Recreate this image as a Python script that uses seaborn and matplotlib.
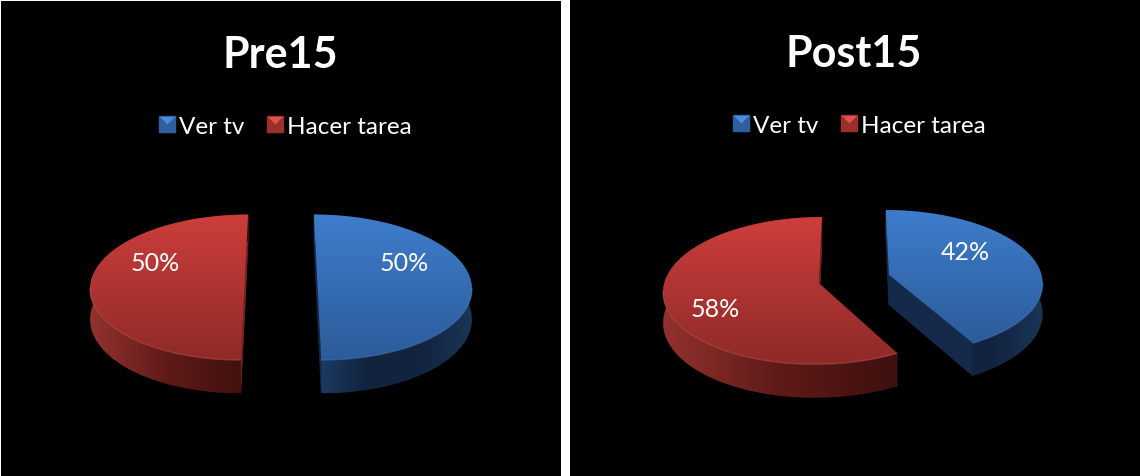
import numpy as np
import matplotlib
matplotlib.use('Agg')
import matplotlib.pyplot as plt
import seaborn as sns
from matplotlib.lines import Line2D
from matplotlib.patches import PathPatch, Polygon
from matplotlib.path import Path
from matplotlib.legend_handler import HandlerTuple

# --- data
categories = ['Ver tv', 'Hacer tarea']
pre_values = [50, 50]
post_values = [42, 58]
titles = ['Pre15', 'Post15']

# --- colours
top_ramps = [['#3E7DCC', '#2C5B9A'], ['#CD3E3B', '#8E2A28']]
side_ramps = [['#1C3E69', '#12233F', '#12233F', '#1A3556'],
              ['#93322E', '#5E1A18', '#3E100E']]
cut_cols = ['#15294A', '#7A2422']
rim_cols = ['#4E86C8', '#D65A52']
leg_dark = ['#2F5F9E', '#9A2F2C']
leg_light = ['#4A8BDA', '#E0504C']

sns.set_theme(style='dark', rc={'axes.edgecolor': 'black', 'figure.facecolor': 'white'})
plt.rcParams['font.family'] = ['Lato', 'DejaVu Sans']

# pie geometry, in pixels
A, B, K = 153.5, 72, 0.1     # semi axes, perspective
DEPTH = 30
EXPLODE = 0.236


def project(X, Y, cx, cy, depth=0):
    s = 1 / (1 + K * Y)
    return cx + A * X * s, cy - B * Y * s + depth * s


def fill_gradient(ax, verts, ramp, vertical, zorder):
    verts = np.array(verts)
    x0, y0 = verts.min(axis=0)
    x1, y1 = verts.max(axis=0)
    cmap = sns.blend_palette(ramp, 64, as_cmap=True)
    grad = np.linspace(0, 1, 256)
    grad = grad[:, None] if vertical else grad[None, :]
    im = ax.imshow(grad, cmap=cmap, extent=(x0, x1, y1, y0), aspect='auto',
                   interpolation='bilinear', zorder=zorder)
    patch = PathPatch(Path(np.vstack([verts, verts[0]]), closed=True),
                      transform=ax.transData, fc='none', ec='none')
    ax.add_patch(patch)
    im.set_clip_path(patch)


def draw_slice(ax, start, end, idx, cx, cy):
    mid = np.radians((start + end) / 2)
    ox, oy = EXPLODE * np.sin(mid), EXPLODE * np.cos(mid)
    th = np.radians(np.linspace(start, end, 160))
    X, Y = np.sin(th) + ox, np.cos(th) + oy
    tx, ty = project(X, Y, cx, cy)
    bx, by = project(X, Y, cx, cy, DEPTH)
    ax0, ay0 = project(ox, oy, cx, cy)
    ax1, ay1 = project(ox, oy, cx, cy, DEPTH)

    # cut faces
    for j in (0, -1):
        ax.add_patch(Polygon([(ax0, ay0), (tx[j], ty[j]), (bx[j], by[j]), (ax1, ay1)],
                             fc=cut_cols[idx], ec=cut_cols[idx], lw=0.5, zorder=2))
    # outer wall
    wall = list(zip(tx, ty)) + list(zip(bx[::-1], by[::-1]))
    fill_gradient(ax, wall, side_ramps[idx], False, 3)
    # top face
    top = [(ax0, ay0)] + list(zip(tx, ty))
    fill_gradient(ax, top, top_ramps[idx], True, 4)
    # soft light rim along the front edge
    front = np.cos(th) < -0.1
    ax.plot(tx[front], ty[front], color=rim_cols[idx], lw=1.0, alpha=0.45,
            zorder=5, solid_capstyle='butt')


def draw_panel(ax, values, title, cx, cy, label_xy, title_xy, legend_xy):
    ax.set_facecolor('black')
    angles = np.concatenate([[0], np.cumsum(values) / np.sum(values) * 360])
    for i in range(len(values)):
        draw_slice(ax, angles[i], angles[i + 1], i, cx, cy)
        ax.text(*label_xy[i], f'{values[i]}%', color='white', fontsize=18,
                ha='center', va='center', zorder=6)
    ax.text(*title_xy, title, color='white', fontsize=31, fontweight='bold',
            ha='center', va='center')
    tri = [(-1, 1), (1, 1), (0, 0), (-1, 1)]
    handles = []
    for i in range(len(categories)):
        base = Line2D([], [], ls='', marker='s', ms=11, mfc=leg_dark[i], mec=leg_dark[i])
        over = Line2D([], [], ls='', marker=tri, ms=11, mfc=leg_light[i], mec='none')
        handles.append((base, over))
    ax.legend(handles, categories, loc='center', bbox_to_anchor=legend_xy,
              bbox_transform=ax.transData, ncol=2, frameon=False, fontsize=17.5,
              labelcolor='white', handletextpad=-0.17, columnspacing=0.63,
              handlelength=1.3, handler_map={tuple: HandlerTuple(ndivide=1, pad=0)})


fig = plt.figure(figsize=(11.4, 4.77), dpi=100)
W, H = 1140, 477

boxes = [(1, 561, 2, 477), (570, 1140, 1, 477)]
ax_list = []
for x0, x1, y0, y1 in boxes:
    ax = fig.add_axes([x0 / W, 1 - y1 / H, (x1 - x0) / W, (y1 - y0) / H])
    ax_list.append(ax)

draw_panel(ax_list[0], pre_values, titles[0], 281, 281,
           [(404, 264), (155, 264)], (280, 55), (281.5, 127))
draw_panel(ax_list[1], post_values, titles[1], 854, 280,
           [(965, 252), (715, 310)], (854, 54), (855.5, 126))

for ax, (x0, x1, y0, y1) in zip(ax_list, boxes):
    ax.set_xlim(x0, x1)
    ax.set_ylim(y1, y0)
    ax.set_xticks([])
    ax.set_yticks([])
    ax.grid(False)
    for sp in ax.spines.values():
        sp.set_visible(False)

fig.savefig('out.png', dpi=100)
